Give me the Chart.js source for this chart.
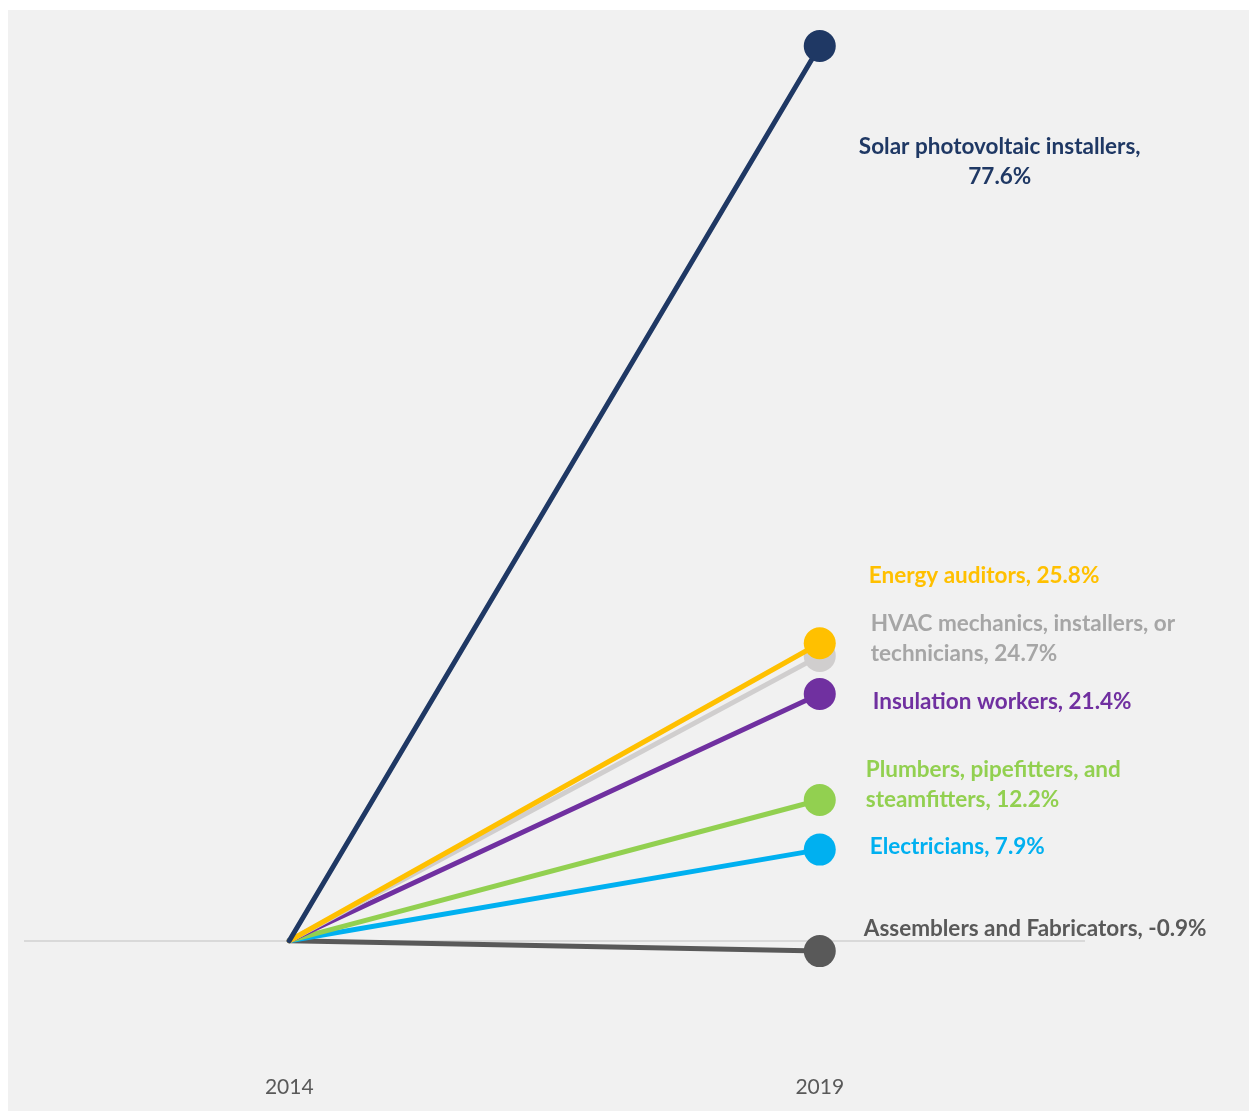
<!DOCTYPE html>
<html>
<head>
<meta charset="utf-8">
<script src="https://cdn.jsdelivr.net/npm/chart.js@4/dist/chart.umd.min.js"></script>
<style>
  body { margin: 0; background: #fff; }
  #panel { position: absolute; left: 8px; top: 10px; width: 1241px; height: 1101px; background: #f1f1f1; }
</style>
</head>
<body>
<div id="panel"><canvas id="chart" width="1241" height="1101"></canvas></div>
<script>
// Data
const years = [2014, 2019];
const jobs = ['Solar photovoltaic installers', 'Energy auditors', 'HVAC mechanics, installers, or technicians',
    'Insulation workers', 'Plumbers, pipefitters, and steamfitters', 'Electricians', 'Assemblers and Fabricators'];
const growth = [77.6, 25.8, 24.7, 21.4, 12.2, 7.9, -0.9];
const lineColors = ['#1f3864', '#ffc000', '#d0cece', '#7030a0', '#92d050', '#00b0f0', '#595959'];
const textColors = ['#1f3864', '#ffc000', '#a6a6a6', '#7030a0', '#92d050', '#00b0f0', '#595959'];

// label text lines, offset from the 2019 point, alignment
const labelLines = [
    ['Solar photovoltaic installers,', '77.6%'],
    ['Energy auditors, 25.8%'],
    ['HVAC mechanics, installers, or', 'technicians, 24.7%'],
    ['Insulation workers, 21.4%'],
    ['Plumbers, pipefitters, and', 'steamfitters, 12.2%'],
    ['Electricians, 7.9%'],
    ['Assemblers and Fabricators, -0.9%']
];
const labelPos = [
    { dx: 180, dy: 101, align: 'center' },
    { dx: 49, dy: -67, align: 'left' },
    { dx: 51, dy: -32, align: 'left' },
    { dx: 53, dy: 8, align: 'left' },
    { dx: 46, dy: -30, align: 'left' },
    { dx: 50, dy: -3, align: 'left' },
    { dx: 44, dy: -22, align: 'left' }
];

const datasets = jobs.map((name, i) => ({
    label: name,
    data: [{ x: years[0], y: 0 }, { x: years[1], y: growth[i] }],
    borderColor: lineColors[i],
    backgroundColor: lineColors[i],
    borderWidth: 5,
    borderCapStyle: 'round',
    pointRadius: [0, 16],
    pointHoverRadius: [0, 16],
    pointBorderWidth: 0,
    order: i
}));

// Draw end labels
const endLabels = {
    id: 'endLabels',
    afterDatasetsDraw(chart) {
        const ctx = chart.ctx;
        ctx.save();
        ctx.font = 'bold 22.5px Lato';
        ctx.textBaseline = 'middle';
        chart.data.datasets.forEach((ds, i) => {
            const pt = chart.getDatasetMeta(i).data[1];
            const p = labelPos[i];
            ctx.fillStyle = textColors[i];
            ctx.textAlign = p.align;
            labelLines[i].forEach((line, k) => {
                ctx.fillText(line, pt.x + p.dx, pt.y + p.dy + k * 29.5);
            });
        });
        ctx.restore();
    }
};

new Chart(document.getElementById('chart'), {
    type: 'line',
    data: { datasets },
    options: {
        responsive: false,
        animation: false,
        layout: { padding: { left: 16, right: 164, top: 0, bottom: 0 } },
        plugins: { legend: { display: false }, tooltip: { enabled: false } },
        scales: {
            x: {
                type: 'linear',
                min: 2011.5,
                max: 2021.5,
                afterBuildTicks: (scale) => { scale.ticks = years.map(v => ({ value: v })); },
                afterFit: (scale) => { scale.height = 55; },
                grid: { display: false },
                border: { display: false },
                ticks: {
                    color: '#595959',
                    font: { family: 'Lato', size: 21 },
                    padding: 11,
                    callback: (v) => String(v)
                }
            },
            y: {
                min: -10,
                max: 79.33,
                afterFit: (scale) => { scale.width = 0; },
                border: { display: false },
                ticks: { display: false },
                grid: {
                    drawTicks: false,
                    lineWidth: 2,
                    color: (c) => c.tick && c.tick.value === 0 ? '#d9d9d9' : 'rgba(0,0,0,0)'
                },
                afterBuildTicks: (scale) => { scale.ticks = [{ value: 0 }]; }
            }
        }
    },
    plugins: [endLabels]
});
</script>
</body>
</html>
